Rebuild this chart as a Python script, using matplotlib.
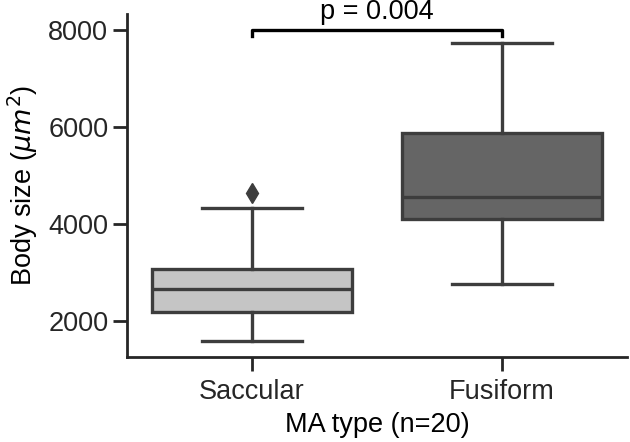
import matplotlib
matplotlib.use("Agg")
import matplotlib.pyplot as plt

# box statistics (um^2)
groups = ["Saccular", "Fusiform"]
medians = [2655, 4565]
q1 = [2185, 4115]
q3 = [3075, 5870]
whis_lo = [1590, 2765]
whis_hi = [4335, 7745]
fliers = [[4635], []]
fills = ["#c5c5c5", "#656565"]
p_text = "p = 0.004"
bar_y = 8000

plt.rcParams["font.family"] = ["Liberation Sans", "DejaVu Sans"]
plt.rcParams["font.size"] = 19.5

line_col = "#3d3d3d"

fig, ax = plt.subplots(figsize=(6.3, 4.42), dpi=100)
fig.subplots_adjust(left=0.2016, right=0.995, bottom=0.192, top=0.968)

stats = []
for i, g in enumerate(groups):
    stats.append({"label": g, "med": medians[i], "q1": q1[i], "q3": q3[i],
                  "whislo": whis_lo[i], "whishi": whis_hi[i],
                  "fliers": fliers[i]})

lw = 2.4
bp = ax.bxp(stats, positions=range(len(groups)), widths=0.8,
            patch_artist=True, manage_ticks=False,
            boxprops=dict(edgecolor=line_col, linewidth=lw),
            medianprops=dict(color=line_col, linewidth=lw),
            whiskerprops=dict(color=line_col, linewidth=lw),
            capprops=dict(color=line_col, linewidth=lw),
            flierprops=dict(marker="d", markerfacecolor=line_col,
                            markeredgecolor=line_col, markersize=10))
for patch, c in zip(bp["boxes"], fills):
    patch.set_facecolor(c)
for cap in bp["caps"]:
    xd = cap.get_xdata()
    mid = (xd[0] + xd[1]) / 2
    cap.set_xdata([mid - 0.2, mid + 0.2])

# significance bracket
ax.plot([0, 0, 1, 1], [bar_y - 125, bar_y, bar_y, bar_y - 125],
        color="black", linewidth=2.4, clip_on=False)
ax.text(0.5, bar_y + 110, p_text, ha="center", va="bottom", fontsize=19.5)

ax.set_xlim(-0.5, 1.5)
ax.set_ylim(1258, 8330)
ax.set_yticks([2000, 4000, 6000, 8000])
ax.set_xticks(range(len(groups)))
ax.set_xticklabels(groups)
ax.set_xlabel("MA type (n=20)", labelpad=5)
ax.set_ylabel(r"Body size ($\mu m^2$)", labelpad=6)

for s in ["top", "right"]:
    ax.spines[s].set_visible(False)
for s in ["left", "bottom"]:
    ax.spines[s].set_linewidth(2)
    ax.spines[s].set_color("#262626")
ax.tick_params(length=10, width=2, color="#262626", labelcolor="#262626")
ax.tick_params(axis="x", pad=6)

plt.savefig("out.png")
